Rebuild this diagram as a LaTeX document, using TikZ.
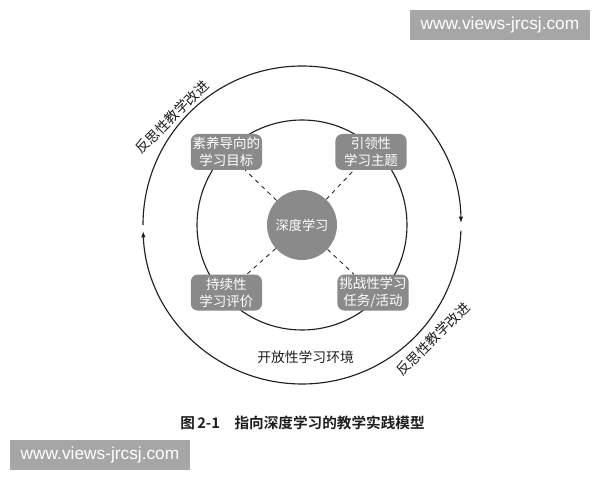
\documentclass[tikz,border=0pt]{standalone}
\usepackage{fontspec}
\usepackage{xcolor}
\usepackage{tikz}
\usetikzlibrary{calc,arrows.meta}
\newfontfamily\cjk{Noto Sans CJK SC}[BoldFont={Noto Sans CJK SC Bold}]
\setsansfont{Liberation Sans}
\definecolor{ink}{HTML}{1E1E1E}
\definecolor{fillg}{HTML}{8A8A8A}
\definecolor{wmg}{HTML}{A6A6A6}
\definecolor{paper}{HTML}{FFFFFF}
\tikzset{
  ring/.style={draw=ink, line width=0.8pt},
  flow/.style={draw=ink, line width=0.8pt, -{Latex[length=4.5pt,width=3.2pt]}},
  link/.style={draw=ink, dashed, line width=0.6pt},
  box/.style={rounded corners=5pt, fill=fillg, text=paper, align=center,
    minimum width=1.78cm, minimum height=0.9cm, inner sep=1pt,
    font=\cjk\fontsize{9.6}{12}\selectfont},
  hub/.style={circle, fill=fillg, text=paper, minimum size=1.75cm, inner sep=0pt,
    font=\cjk\fontsize{9.4}{12}\selectfont},
  lab/.style={text=ink, font=\cjk\fontsize{9.8}{12}\selectfont},
  captxt/.style={text=ink, font=\cjk\bfseries\fontsize{10.4}{12}\selectfont},
  wm/.style={fill=wmg, text=paper, minimum width=4.5cm, minimum height=0.75cm,
    inner sep=0pt, font=\sffamily\fontsize{12.3}{14}\selectfont},
}
\begin{document}
\begin{tikzpicture}
  \useasboundingbox[fill=paper] (0,0) rectangle (15,12);
  \def\rout{3.975cm}
  \def\rin{2.625cm}
  \coordinate (O) at (7.55,6.375);
  % rings
  \draw[ring] (O) circle (\rin);
  \draw[flow] ($(O)+(180:\rout)$) arc[start angle=180, end angle=0.7, radius=\rout];
  \draw[flow] ($(O)+(-2:\rout)$) arc[start angle=-2, end angle=-177.8, radius=\rout];
  % centre and boxes
  \node[hub] (deep) at (O) {深度学习};
  \node[box] (goal) at ($(O)+(-1.89,1.825)$) {素养导向的\\学习目标};
  \node[box] (theme) at ($(O)+(1.725,1.825)$) {引领性\\学习主题};
  \node[box] (eval) at ($(O)+(-1.89,-1.69)$) {持续性\\学习评价};
  \node[box] (task) at ($(O)+(1.775,-1.69)$) {挑战性学习\\任务/活动};
  \draw[link] (deep) -- (goal);
  \draw[link] (deep) -- (theme);
  \draw[link] (deep) -- (eval);
  \draw[link] (deep) -- (task);
  % labels
  \node[lab] (env) at (7.64,3.075) {开放性学习环境};
  \node[lab, rotate=45] (refl1) at (4.3,9.075) {反思性教学改进};
  \node[lab, rotate=45] (refl2) at (10.825,3.525) {反思性教学改进};
  \node[captxt] (title) at (7.5625,1.425) {图\,2-1\quad 指向深度学习的教学实践模型};
  % watermarks
  \node[wm] (wm1) at (12.5,11.375) {www.views-jrcsj.com};
  \node[wm] (wm2) at (2.5,0.625) {www.views-jrcsj.com};
\end{tikzpicture}
\end{document}
